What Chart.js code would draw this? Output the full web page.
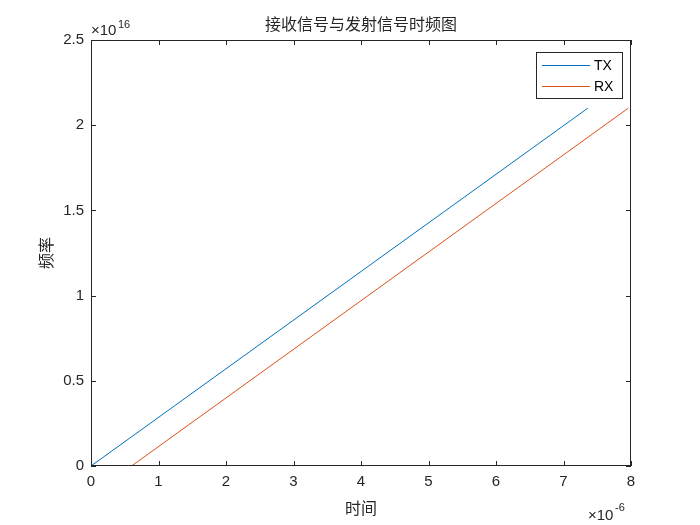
<!DOCTYPE html><html><head><meta charset="utf-8">
<script src="https://cdn.jsdelivr.net/npm/chart.js@4"></script>
<style>body{margin:0;background:#fff}#w{width:700px;height:525px}</style></head><body>
<div id="w"><canvas id="c"></canvas></div>
<script>
const seriesNames=['TX','RX'];
const txPoints=[{x:0,y:0},{x:7.36,y:2.1}];
const rxPoints=[{x:0.6,y:0},{x:7.96,y:2.1}];
const xTicks=[0,1,2,3,4,5,6,7,8];
const yTicks=[0,0.5,1,1.5,2,2.5];
const colors=['#0072BD','#D95319'];
const F='"Liberation Sans", Arial, sans-serif';
const CJK='"Noto Sans CJK SC", sans-serif';
const deco={id:'deco',afterDraw(ch){
 const c=ch.ctx,a=ch.chartArea,xs=ch.scales.x,ys=ch.scales.y;
 c.save();c.strokeStyle='#262626';c.lineWidth=1;
 c.strokeRect(a.left+0.5,a.top+0.5,a.right-a.left-1,a.bottom-a.top-1);
 c.beginPath();
 xTicks.forEach(t=>{const p=Math.round(xs.getPixelForValue(t))+0.5;c.moveTo(p,a.bottom);c.lineTo(p,a.bottom-5);c.moveTo(p,a.top);c.lineTo(p,a.top+5);});
 yTicks.forEach(t=>{const p=Math.round(ys.getPixelForValue(t))+0.5;c.moveTo(a.left,p);c.lineTo(a.left+5,p);c.moveTo(a.right,p);c.lineTo(a.right-5,p);});
 c.stroke();
 c.fillStyle='#262626';c.font='15px '+F;
 c.textAlign='center';c.textBaseline='top';
 xTicks.forEach(t=>c.fillText(String(t),xs.getPixelForValue(t),a.bottom+8));
 c.textAlign='right';c.textBaseline='middle';
 yTicks.forEach(t=>c.fillText(String(t),a.left-7,ys.getPixelForValue(t)));
 c.textAlign='left';c.textBaseline='alphabetic';
 c.font='15px '+F;c.fillText('\u00d710',a.left,a.top-5);
 c.font='11px '+F;c.fillText('16',a.left+27,a.top-12);
 c.font='15px '+F;c.fillText('\u00d710',a.right-43,a.bottom+54);
 c.font='11px '+F;c.fillText('-6',a.right-16,a.bottom+45);
 c.textAlign='center';c.font='16px '+CJK;c.textBaseline='middle';
 c.fillText('接收信号与发射信号时频图',(a.left+a.right)/2,24);
 c.fillText('时间',(a.left+a.right)/2,508);
 c.save();c.translate(46,(a.top+a.bottom)/2);c.rotate(-Math.PI/2);c.fillText('频率',0,0);c.restore();
 const lx=536,ly=52,lw=86,lh=46;
 c.fillStyle='#fff';c.fillRect(lx,ly,lw,lh);
 c.strokeStyle='#262626';c.strokeRect(lx+0.5,ly+0.5,lw,lh);
 c.font='14px '+F;c.textAlign='left';
 seriesNames.forEach((n,i)=>{const yy=ly+13+i*21;c.strokeStyle=colors[i];c.beginPath();c.moveTo(lx+6,yy+0.5);c.lineTo(lx+54,yy+0.5);c.stroke();c.fillStyle='#000';c.fillText(n,lx+58,yy+1);});
 c.restore();}};
new Chart(document.getElementById('c'),{type:'scatter',
 data:{datasets:[
  {label:seriesNames[0],data:txPoints,showLine:true,borderColor:colors[0],borderWidth:1,pointRadius:0},
  {label:seriesNames[1],data:rxPoints,showLine:true,borderColor:colors[1],borderWidth:1,pointRadius:0}]},
 options:{responsive:true,maintainAspectRatio:false,animation:false,
  layout:{padding:{top:40,right:69,left:0,bottom:0}},
  plugins:{legend:{display:false},tooltip:{enabled:false}},
  scales:{
   x:{type:'linear',min:0,max:8,grid:{display:false},border:{display:false},ticks:{display:false},afterFit(s){s.height=59;}},
   y:{type:'linear',min:0,max:2.5,grid:{display:false},border:{display:false},ticks:{display:false},afterFit(s){s.width=91;}}}},
 plugins:[deco]});
</script></body></html>
